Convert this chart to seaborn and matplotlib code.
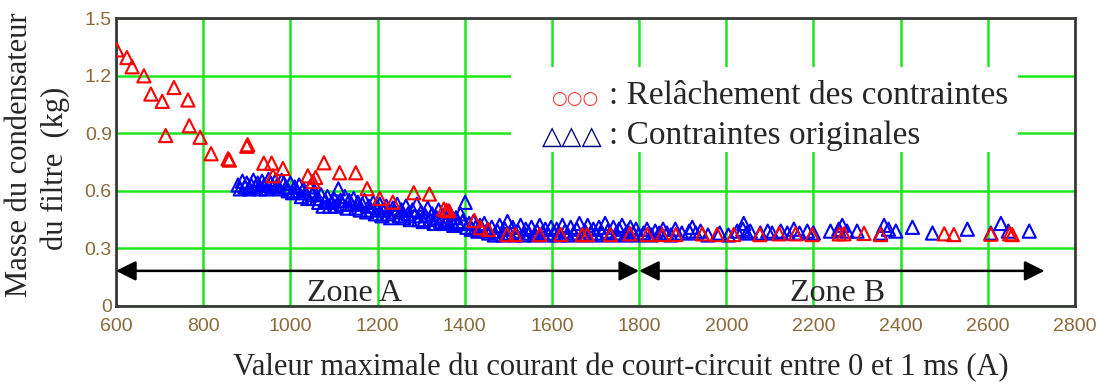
import matplotlib
matplotlib.use("Agg")
import matplotlib.pyplot as plt
from matplotlib.patches import Rectangle
import seaborn as sns
import pandas as pd

# Relaxed constraints (red)
relax_x = [602, 625, 637, 664, 680, 706, 733, 765, 768, 714, 793, 818, 857, 860,
           900, 902, 939, 957, 983, 960, 1040, 1052, 1058, 1077, 1113, 1150, 1176,
           1205, 1235, 1283, 1319, 1352, 1358, 1363, 1422, 1436, 1454, 1497, 1516,
           1572, 1620, 1669, 1681, 1734, 1779, 1819, 1853, 1884, 1945, 1979, 2017,
           2077, 2121, 2159, 2197, 2259, 2270, 2316, 2354, 2500, 2522, 2607, 2650,
           2656]
relax_y = [1.334, 1.294, 1.246, 1.199, 1.104, 1.066, 1.138, 1.073, 0.939, 0.888,
           0.879, 0.793, 0.767, 0.760, 0.832, 0.840, 0.744, 0.744, 0.716, 0.678,
           0.678, 0.648, 0.670, 0.746, 0.694, 0.694, 0.611, 0.560, 0.541, 0.590,
           0.583, 0.505, 0.498, 0.496, 0.445, 0.408, 0.398, 0.372, 0.372, 0.372,
           0.372, 0.372, 0.372, 0.372, 0.376, 0.372, 0.372, 0.372, 0.376, 0.372,
           0.372, 0.372, 0.376, 0.376, 0.372, 0.376, 0.376, 0.378, 0.372, 0.376,
           0.372, 0.374, 0.376, 0.372]

# Original constraints (blue)
orig_x = [880, 885, 890, 896, 900, 905, 910, 915, 920, 925, 930, 935, 940, 945,
          950, 955, 960, 965, 970, 975, 980, 985, 990, 995, 1000, 1005, 1010, 1015,
          1020, 1025, 1030, 1035, 1040, 1045, 1050, 1055, 1060, 1065, 1070, 1075,
          1080, 1085, 1090, 1095, 1100, 1105, 1110, 1115, 1120, 1125, 1130, 1135,
          1140, 1145, 1150, 1155, 1160, 1165, 1170, 1175, 1180, 1185, 1190, 1195,
          1200, 1205, 1210, 1215, 1220, 1225, 1230, 1235, 1240, 1245, 1250, 1255,
          1260, 1265, 1270, 1275, 1280, 1285, 1290, 1295, 1300, 1305, 1310, 1315,
          1320, 1325, 1330, 1335, 1340, 1345, 1350, 1355, 1360, 1365, 1370, 1375,
          1380, 1385, 1390, 1395, 1401, 1405, 1410, 1415, 1420, 1425, 1430, 1435,
          1440, 1445, 1450,
          1455, 1462, 1468, 1475, 1480, 1487, 1492, 1498, 1503, 1510, 1516, 1522,
          1528, 1535, 1540, 1547, 1553, 1560, 1566, 1572, 1578, 1585, 1592, 1598,
          1604, 1611, 1618, 1624, 1630, 1637, 1643, 1650, 1657, 1663, 1670, 1676,
          1682, 1689, 1695, 1702, 1708, 1715, 1722, 1728, 1735, 1741, 1748, 1754,
          1761, 1768, 1774, 1780, 1786, 1793, 1798,
          1810, 1818, 1828, 1837, 1846, 1855, 1864, 1873, 1883, 1898, 1915, 1922,
          1930, 1941, 1958, 1985, 2005, 2025, 2040, 2038, 2047, 2055, 2078, 2095,
          2105, 2125, 2140, 2155, 2168, 2186, 2200, 2239, 2258, 2266, 2277, 2300,
          2354, 2362, 2372, 2389, 2427, 2473, 2553, 2607, 2630, 2647, 2695]
orig_y = [0.63, 0.61, 0.65, 0.62, 0.64, 0.61, 0.63, 0.655, 0.62, 0.64, 0.61, 0.65,
          0.63, 0.61, 0.66, 0.64, 0.62, 0.65, 0.63, 0.61, 0.655, 0.64, 0.62, 0.60,
          0.64, 0.59, 0.62, 0.60, 0.63, 0.57, 0.61, 0.59, 0.56, 0.62, 0.58, 0.60,
          0.56, 0.54, 0.58, 0.52, 0.55, 0.57, 0.52, 0.54, 0.56, 0.52, 0.61, 0.55,
          0.53, 0.57, 0.51, 0.55, 0.53, 0.56, 0.51, 0.54, 0.50, 0.53, 0.55, 0.49,
          0.52, 0.50, 0.54, 0.48, 0.51, 0.53, 0.47, 0.50, 0.52, 0.48, 0.46, 0.51,
          0.49, 0.53, 0.47, 0.50, 0.46, 0.52, 0.48, 0.45, 0.50, 0.47, 0.53, 0.45,
          0.49, 0.44, 0.47, 0.51, 0.45, 0.48, 0.43, 0.46, 0.50, 0.44, 0.47, 0.43,
          0.45, 0.49, 0.44, 0.42, 0.46, 0.43, 0.48, 0.44, 0.54, 0.41, 0.43, 0.40,
          0.44, 0.41, 0.39, 0.42, 0.40, 0.43, 0.39,
          0.38, 0.41, 0.37, 0.39, 0.42, 0.37, 0.40, 0.44, 0.38, 0.41, 0.37, 0.39,
          0.42, 0.37, 0.40, 0.38, 0.41, 0.37, 0.39, 0.42, 0.38, 0.40, 0.37, 0.41,
          0.38, 0.40, 0.37, 0.42, 0.39, 0.37, 0.41, 0.38, 0.40, 0.43, 0.37, 0.39,
          0.42, 0.38, 0.40, 0.37, 0.41, 0.38, 0.43, 0.39, 0.37, 0.41, 0.38, 0.40,
          0.42, 0.37, 0.39, 0.41, 0.38, 0.40, 0.37,
          0.38, 0.40, 0.37, 0.39, 0.38, 0.40, 0.38, 0.37, 0.40, 0.38, 0.39, 0.41,
          0.38, 0.39, 0.37, 0.38, 0.37, 0.39, 0.43, 0.40, 0.38, 0.39, 0.38, 0.39,
          0.38, 0.39, 0.38, 0.40, 0.38, 0.39, 0.38, 0.39, 0.40, 0.42, 0.39, 0.39,
          0.38, 0.42, 0.40, 0.39, 0.41, 0.38, 0.40, 0.38, 0.43, 0.39, 0.39]

x_ticks = [600, 800, 1000, 1200, 1400, 1600, 1800, 2000, 2200, 2400, 2600, 2800]
y_ticks = [0, 0.3, 0.6, 0.9, 1.2, 1.5]
y_tick_labels = ["0", "0.3", "0.6", "0.9", "1.2", "1.5"]

zone_bounds = [600, 1800, 2730]
zone_labels = ["Zone A", "Zone B"]

sns.set_style("white")
plt.rcParams["font.family"] = ["Liberation Serif", "DejaVu Serif"]

fig = plt.figure(figsize=(11.07, 3.85), dpi=100)
ax = fig.add_axes([0.1048, 0.2052, 0.8663, 0.748])

df_orig = pd.DataFrame({"x": orig_x, "y": orig_y})
df_relax = pd.DataFrame({"x": relax_x, "y": relax_y})

sns.scatterplot(data=df_orig, x="x", y="y", ax=ax, marker="^", s=90,
                facecolor="none", edgecolor="#0000ff", linewidth=1.5, zorder=3)
sns.scatterplot(data=df_relax, x="x", y="y", ax=ax, marker="^", s=90,
                facecolor="none", edgecolor="#ff0000", linewidth=1.5, zorder=4)

ax.set_xlim(600, 2800)
ax.set_ylim(0, 1.5)
ax.set_xticks(x_ticks)
ax.set_yticks(y_ticks)
ax.set_yticklabels(y_tick_labels)

tick_font = ["Liberation Sans", "DejaVu Sans"]
for lab in ax.get_xticklabels() + ax.get_yticklabels():
    lab.set_family(tick_font)
    lab.set_fontsize(14)
    lab.set_color("#8a6a3a")
ax.tick_params(axis="x", length=0, pad=9)
ax.tick_params(axis="y", length=0, pad=3)

ax.grid(True, color="#1ee61e", linewidth=1.8, zorder=0)
ax.set_axisbelow(True)
for sp in ax.spines.values():
    sp.set_visible(True)
    sp.set_color("#3a3a3a")
    sp.set_linewidth(2)

ax.set_xlabel("")
ax.set_ylabel("")
fig.text(621 / 1107, 1 - 368 / 385,
         "Valeur maximale du courant de court-circuit entre 0 et 1 ms (A)",
         ha="center", va="center", fontsize=22)
fig.text(20 / 1107, 1 - 155 / 385, "Masse du condensateur", rotation=90,
         ha="center", va="center", fontsize=22)
fig.text(55 / 1107, 1 - 168 / 385, "du filtre  (kg)", rotation=90,
         ha="center", va="center", fontsize=22)

# Legend panel
ax.add_patch(Rectangle((1505, 0.80), 1165, 0.445, facecolor="white",
                       edgecolor="none", zorder=1))
ax.text(1651, 1.054, "○○○", color="#ff3030", fontsize=13, ha="center",
        va="baseline", family=["DejaVu Sans"], zorder=5)
ax.text(1647, 0.846, "△△△", color="#000080", fontsize=19, ha="center",
        va="baseline", family=["DejaVu Sans"], zorder=5)
ax.text(1732, 1.054, ": Relâchement des contraintes", fontsize=24,
        ha="left", va="baseline", zorder=5)
ax.text(1732, 0.846, ": Contraintes originales", fontsize=24,
        ha="left", va="baseline", zorder=5)

# Zone arrows
arrow_y = 0.183
for a, b in zip(zone_bounds[:-1], zone_bounds[1:]):
    ax.annotate("", xy=(a, arrow_y), xytext=(b, arrow_y),
                arrowprops=dict(arrowstyle="<|-|>", color="black", lw=1.8,
                                mutation_scale=30, shrinkA=0, shrinkB=0),
                zorder=6)
ax.text(1147, 0.025, zone_labels[0], fontsize=23, ha="center", va="baseline",
        zorder=6)
ax.text(2255, 0.025, zone_labels[1], fontsize=23, ha="center", va="baseline",
        zorder=6)

fig.savefig("out.png", dpi=100)
